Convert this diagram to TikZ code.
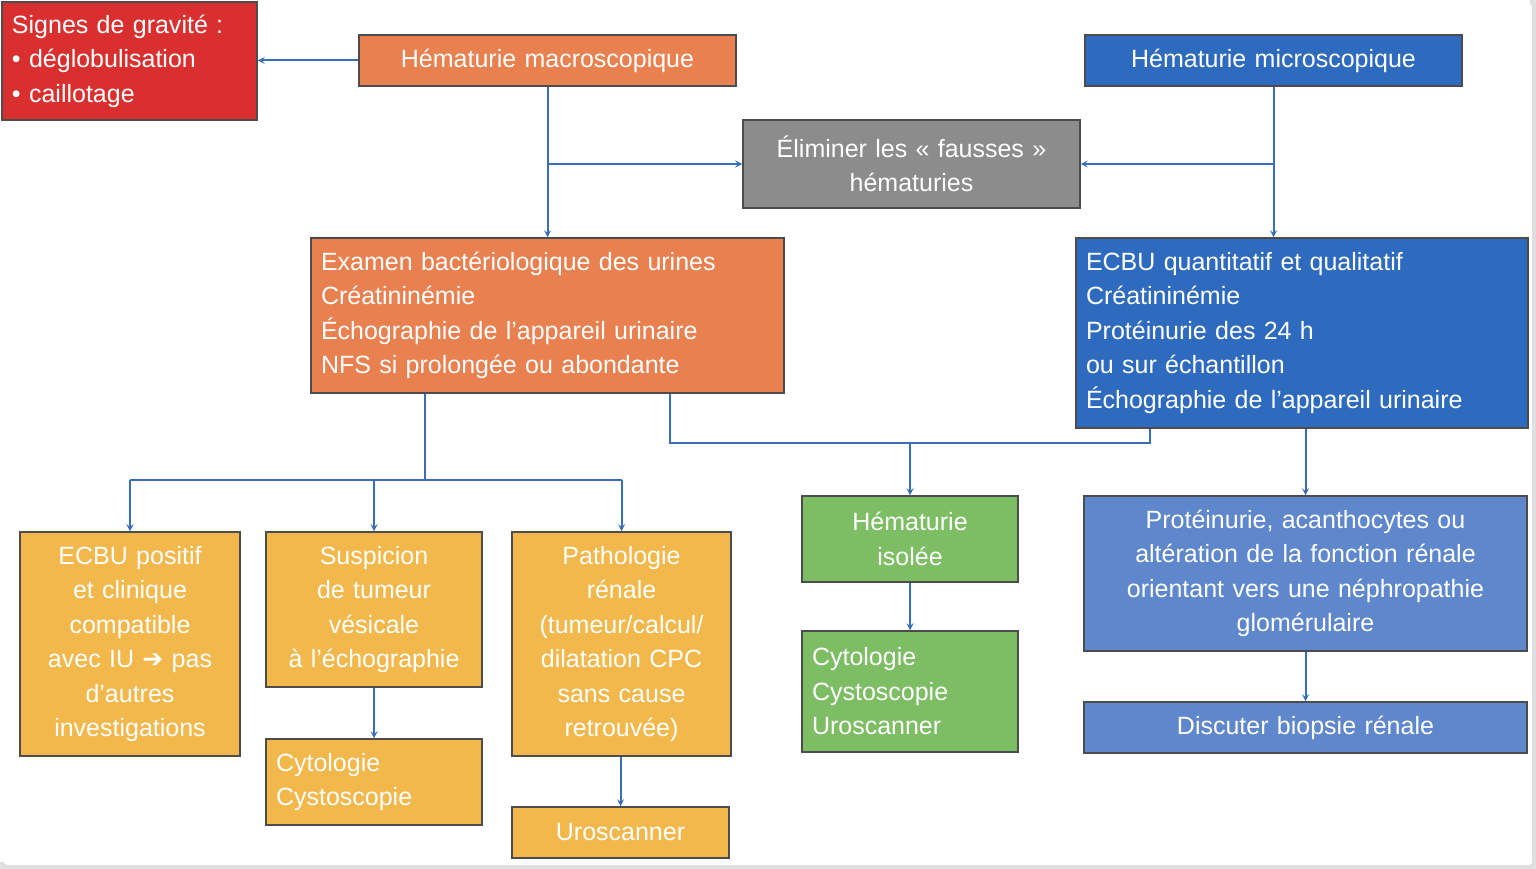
\documentclass[tikz,border=0pt]{standalone}
\usepackage{fontspec}
\setmainfont{Liberation Sans}
\newfontfamily\symb{DejaVu Sans}
\definecolor{rouge}{HTML}{D9302F}
\definecolor{orange}{HTML}{E8804F}
\definecolor{bleu}{HTML}{2E6BBF}
\definecolor{bleuclair}{HTML}{5F87CC}
\definecolor{gris}{HTML}{8C8C8C}
\definecolor{jaune}{HTML}{F2B84B}
\definecolor{vert}{HTML}{7DBE64}
\definecolor{trait}{HTML}{3A6FB8}
\tikzset{
  box/.style={draw=black!70, line width=1.5pt, text=white, inner xsep=10pt, inner ysep=0pt,
    font=\fontsize{25}{34.5}\selectfont},
  arr/.style={draw=trait, line width=2pt, -stealth},
  lien/.style={draw=trait, line width=2pt},
}
% box from (x1,y1) to (x2,y2) in pixels
\newcommand{\boite}[8]{%
  \pgfmathsetmacro\bw{#4-#2}\pgfmathsetmacro\bh{#5-#3}%
  \pgfmathsetmacro\tw{#4-#2-20}%
  \node[box, fill=#6, minimum width=\bw pt, minimum height=\bh pt, text width=\tw pt, align=#7]
    (#1) at ({(#2+#4)/2},{(#3+#5)/2}) {#8};}
\begin{document}
\begin{tikzpicture}[x=1pt,y=-1pt]
\useasboundingbox (0,0) rectangle (1536,869);
\draw[gray!25, line width=6pt, rounded corners=6pt] (1,1) rectangle (1535,868);
\fill[white] (0,0) rectangle (1530,862);

\boite{signes}{2}{2}{257}{120}{rouge}{left}{Signes de gravité :\\• déglobulisation\\• caillotage}
\boite{macro}{359}{35}{736}{86}{orange}{center}{Hématurie macroscopique}
\boite{micro}{1085}{35}{1462}{86}{bleu}{center}{Hématurie microscopique}
\boite{elim}{743}{120}{1080}{208}{gris}{center}{Éliminer les « fausses »\\hématuries}
\boite{examen}{311}{238}{784}{393}{orange}{left}{Examen bactériologique des urines\\Créatininémie\\Échographie de l’appareil urinaire\\NFS si prolongée ou abondante}
\boite{ecbu}{1076}{238}{1528}{428}{bleu}{left}{ECBU quantitatif et qualitatif\\Créatininémie\\Protéinurie des 24 h\\ou sur échantillon\\Échographie de l’appareil urinaire}
\boite{pos}{20}{532}{240}{756}{jaune}{center}{ECBU positif\\et clinique\\compatible\\avec IU {\symb ➔} pas\\d’autres\\investigations}
\boite{susp}{266}{532}{482}{687}{jaune}{center}{Suspicion\\de tumeur\\vésicale\\à l’échographie}
\boite{patho}{512}{532}{731}{756}{jaune}{center}{Pathologie\\rénale\\(tumeur/calcul/\\dilatation CPC\\sans cause\\retrouvée)}
\boite{cyto}{266}{739}{482}{825}{jaune}{left}{Cytologie\\Cystoscopie}
\boite{uro}{512}{807}{729}{858}{jaune}{center}{Uroscanner}
\boite{iso}{802}{496}{1018}{582}{vert}{center}{Hématurie\\isolée}
\boite{cytob}{802}{631}{1018}{752}{vert}{left}{Cytologie\\Cystoscopie\\Uroscanner}
\boite{prot}{1084}{496}{1527}{651}{bleuclair}{center}{Protéinurie, acanthocytes ou\\altération de la fonction rénale\\orientant vers une néphropathie\\glomérulaire}
\boite{biop}{1084}{702}{1527}{753}{bleuclair}{center}{Discuter biopsie rénale}

% connecteurs
\coordinate (b1) at (425,480);
\coordinate (b2) at (910,443);
\coordinate (b3) at (670,443);
\coordinate (b4) at (1150,443);
\draw[arr] (macro.west) -- (signes.east |- macro.west);
\draw[arr] (macro.south) -- (examen.north);
\draw[arr] (macro.south |- elim.west) -- (elim.west);
\draw[arr] (micro.south) -- (micro.south |- ecbu.north);
\draw[arr] (micro.south |- elim.east) -- (elim.east);
\draw[lien] (examen.south -| b1) -- (b1);
\draw[lien] (pos.north |- b1) -- (patho.north |- b1);
\draw[arr] (pos.north |- b1) -- (pos.north);
\draw[arr] (b1 -| susp.north) -- (susp.north);
\draw[arr] (patho.north |- b1) -- (patho.north);
\draw[lien] (examen.south -| b3) -- (b3) -- (b4) -- (ecbu.south -| b4);
\draw[arr] (b2) -- (iso.north);
\draw[arr] (ecbu.south -| prot.north) -- (prot.north);
\draw[arr] (iso.south) -- (cytob.north);
\draw[arr] (susp.south) -- (cyto.north);
\draw[arr] (patho.south -| uro.north) -- (uro.north);
\draw[arr] (prot.south) -- (biop.north);
\end{tikzpicture}
\end{document}
